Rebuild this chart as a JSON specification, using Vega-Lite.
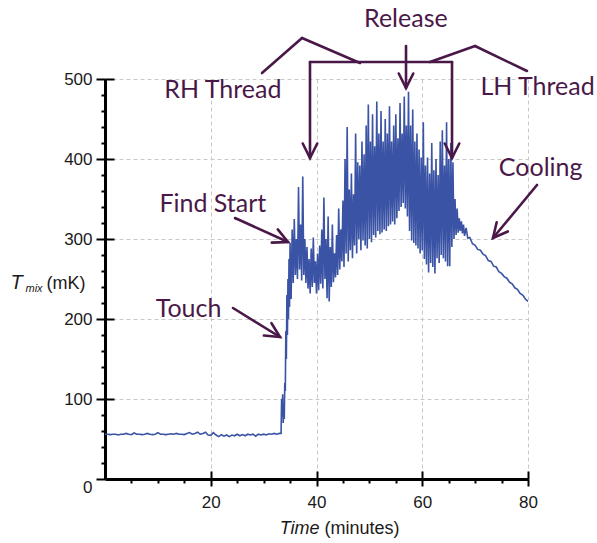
{
  "$schema": "https://vega.github.io/schema/vega-lite/v6.json",
  "width": 423,
  "height": 400,
  "autosize": {"type": "none"},
  "padding": {"left": 105, "top": 79, "right": 69, "bottom": 64},
  "background": "white",
  "config": {"view": {"stroke": null}},
  "datasets": {
    "series": [
      {"t":0,"v":56},{"t":0.5,"v":56},{"t":1,"v":55.5},{"t":1.5,"v":56},{"t":2,"v":56},{"t":2.5,"v":55},{"t":3,"v":56},{"t":3.5,"v":56},{"t":4,"v":57},{"t":4.5,"v":56},{"t":5,"v":55.5},{"t":5.5,"v":57.5},{"t":6,"v":56},{"t":6.5,"v":56},{"t":7,"v":55.5},{"t":7.5,"v":56},{"t":8,"v":57},{"t":8.5,"v":56},{"t":9,"v":55.5},{"t":9.5,"v":56},{"t":10,"v":58},{"t":10.5,"v":56},{"t":11,"v":56},{"t":11.5,"v":55.5},{"t":12,"v":56},{"t":12.5,"v":56.5},{"t":13,"v":56},{"t":13.5,"v":57},{"t":14,"v":56},{"t":14.5,"v":56},{"t":15,"v":55.5},{"t":15.5,"v":57},{"t":16,"v":58},{"t":16.5,"v":56},{"t":17,"v":57},{"t":17.5,"v":58.5},{"t":18,"v":56},{"t":18.5,"v":57},{"t":19,"v":58.5},{"t":19.5,"v":55},{"t":20,"v":54.5},{"t":20.5,"v":58},{"t":21,"v":55},{"t":21.5,"v":53},{"t":22,"v":55.5},{"t":22.5,"v":53.5},{"t":23,"v":55},{"t":23.5,"v":53},{"t":24,"v":55},{"t":24.5,"v":54},{"t":25,"v":56},{"t":25.5,"v":54},{"t":26,"v":55.5},{"t":26.5,"v":54},{"t":27,"v":56},{"t":27.5,"v":55},{"t":28,"v":56},{"t":28.5,"v":53.5},{"t":29,"v":56},{"t":29.5,"v":55},{"t":30,"v":56},{"t":30.5,"v":55},{"t":31,"v":56.5},{"t":31.5,"v":56},{"t":32,"v":57},{"t":32.5,"v":56},{"t":33,"v":57},{"t":33.3,"v":57},
      {"t":33.4,"v":100},{"t":33.5,"v":78},{"t":33.6,"v":106},{"t":33.7,"v":70},{"t":33.8,"v":92},{"t":33.9,"v":75},{"t":34.0,"v":120},{"t":34.1,"v":110},{"t":34.2,"v":185},{"t":34.3,"v":150},{"t":34.4,"v":230},{"t":34.5,"v":180},{"t":34.6,"v":250},{"t":34.7,"v":200},{"t":34.8,"v":275},{"t":34.9,"v":215},
      {"t":35.0,"v":295},{"t":35.2,"v":225},{"t":35.4,"v":312},{"t":35.6,"v":245},{"t":35.8,"v":325},{"t":36.0,"v":255},{"t":36.2,"v":300},{"t":36.4,"v":250},{"t":36.6,"v":365},{"t":36.8,"v":262},{"t":37.0,"v":318},{"t":37.2,"v":248},{"t":37.4,"v":378},{"t":37.6,"v":255},{"t":37.8,"v":300},{"t":38.0,"v":245},{"t":38.2,"v":290},{"t":38.4,"v":238},{"t":38.6,"v":275},{"t":38.8,"v":232},{"t":39.0,"v":288},{"t":39.2,"v":240},{"t":39.4,"v":302},{"t":39.6,"v":245},{"t":39.8,"v":272},
      {"t":40.0,"v":232},{"t":40.2,"v":282},{"t":40.4,"v":236},{"t":40.6,"v":292},{"t":40.8,"v":244},{"t":41.0,"v":312},{"t":41.2,"v":238},{"t":41.4,"v":352},{"t":41.6,"v":250},{"t":41.8,"v":300},{"t":42.0,"v":226},{"t":42.2,"v":328},{"t":42.4,"v":222},{"t":42.6,"v":290},{"t":42.8,"v":240},{"t":43.0,"v":318},{"t":43.2,"v":246},{"t":43.4,"v":282},{"t":43.6,"v":252},{"t":43.8,"v":305},{"t":44.0,"v":255},{"t":44.2,"v":338},{"t":44.4,"v":262},{"t":44.6,"v":312},{"t":44.8,"v":272},
      {"t":45.0,"v":348},{"t":45.2,"v":265},{"t":45.4,"v":400},{"t":45.6,"v":282},{"t":45.8,"v":440},{"t":46.0,"v":272},{"t":46.2,"v":362},{"t":46.4,"v":286},{"t":46.6,"v":382},{"t":46.8,"v":276},{"t":47.0,"v":356},{"t":47.2,"v":292},{"t":47.4,"v":432},{"t":47.6,"v":282},{"t":47.8,"v":396},{"t":48.0,"v":300},{"t":48.2,"v":392},{"t":48.4,"v":286},{"t":48.6,"v":422},{"t":48.8,"v":298},{"t":49.0,"v":406},{"t":49.2,"v":292},{"t":49.4,"v":442},{"t":49.6,"v":288},{"t":49.8,"v":468},
      {"t":50.0,"v":300},{"t":50.2,"v":422},{"t":50.4,"v":296},{"t":50.6,"v":456},{"t":50.8,"v":305},{"t":51.0,"v":416},{"t":51.2,"v":302},{"t":51.4,"v":472},{"t":51.6,"v":310},{"t":51.8,"v":432},{"t":52.0,"v":306},{"t":52.2,"v":460},{"t":52.4,"v":308},{"t":52.6,"v":422},{"t":52.8,"v":312},{"t":53.0,"v":450},{"t":53.2,"v":310},{"t":53.4,"v":432},{"t":53.6,"v":316},{"t":53.8,"v":466},{"t":54.0,"v":318},{"t":54.2,"v":422},{"t":54.4,"v":322},{"t":54.6,"v":442},{"t":54.8,"v":318},
      {"t":55.0,"v":456},{"t":55.2,"v":326},{"t":55.4,"v":426},{"t":55.6,"v":335},{"t":55.8,"v":470},{"t":56.0,"v":340},{"t":56.2,"v":432},{"t":56.4,"v":345},{"t":56.6,"v":478},{"t":56.8,"v":338},{"t":57.0,"v":442},{"t":57.2,"v":328},{"t":57.4,"v":484},{"t":57.6,"v":310},{"t":57.8,"v":442},{"t":58.0,"v":298},{"t":58.2,"v":462},{"t":58.4,"v":295},{"t":58.6,"v":422},{"t":58.8,"v":292},{"t":59.0,"v":432},{"t":59.2,"v":288},{"t":59.4,"v":412},{"t":59.6,"v":282},{"t":59.8,"v":402},
      {"t":60.0,"v":286},{"t":60.2,"v":446},{"t":60.4,"v":275},{"t":60.6,"v":392},{"t":60.8,"v":268},{"t":61.0,"v":402},{"t":61.2,"v":258},{"t":61.4,"v":382},{"t":61.6,"v":270},{"t":61.8,"v":420},{"t":62.0,"v":265},{"t":62.2,"v":386},{"t":62.4,"v":257},{"t":62.6,"v":400},{"t":62.8,"v":276},{"t":63.0,"v":380},{"t":63.2,"v":270},{"t":63.4,"v":422},{"t":63.6,"v":280},{"t":63.8,"v":436},{"t":64.0,"v":276},{"t":64.2,"v":392},{"t":64.4,"v":272},{"t":64.6,"v":446},{"t":64.8,"v":266},
      {"t":65.0,"v":400},{"t":65.2,"v":266},{"t":65.4,"v":420},{"t":65.6,"v":290},{"t":65.8,"v":396},{"t":66.0,"v":300},{"t":66.2,"v":350},{"t":66.4,"v":305},{"t":66.6,"v":338},{"t":66.8,"v":308},{"t":67.0,"v":326},{"t":67.2,"v":310},{"t":67.4,"v":322},{"t":67.6,"v":307},{"t":67.8,"v":318},{"t":68.0,"v":304},{"t":68.3,"v":314},{"t":68.6,"v":301},{"t":69.0,"v":302},{"t":69.5,"v":294},
      {"t":70.0,"v":292},{"t":70.5,"v":287},{"t":71.0,"v":286},{"t":71.5,"v":281},{"t":72.0,"v":279},{"t":72.5,"v":273},{"t":73.0,"v":272},{"t":73.5,"v":266},{"t":74.0,"v":265},{"t":74.5,"v":259},{"t":75.0,"v":257},{"t":75.5,"v":253},{"t":76.0,"v":251},{"t":76.5,"v":246},{"t":77.0,"v":244},{"t":77.5,"v":239},{"t":78.0,"v":237},{"t":78.5,"v":232},{"t":79.0,"v":230},{"t":79.5,"v":225},{"t":80.0,"v":222}
    ],
    "lines": [
      {"x1":56.93,"y1":541.25,"x2":56.93,"y2":488.75},
      {"x1":38.77,"y1":521.25,"x2":65.63,"y2":521.25},
      {"x1":38.77,"y1":521.25,"x2":38.77,"y2":401.25},
      {"x1":65.63,"y1":521.25,"x2":65.63,"y2":401.25},
      {"x1":29.69,"y1":507.5,"x2":37.26,"y2":551.25},
      {"x1":37.26,"y1":551.25,"x2":48.23,"y2":520},
      {"x1":61.47,"y1":521.25,"x2":69.98,"y2":541.25},
      {"x1":69.98,"y1":541.25,"x2":79.81,"y2":510},
      {"x1":24.59,"y1":326.25,"x2":34.61,"y2":296.25},
      {"x1":24.21,"y1":213.75,"x2":33.1,"y2":177.5},
      {"x1":81.7,"y1":367.5,"x2":73.38,"y2":301.25}
    ],
    "heads": [
      {"x":56.93,"y":488.75,"angle":0},
      {"x":38.77,"y":401.25,"angle":0},
      {"x":65.63,"y":401.25,"angle":0},
      {"x":34.61,"y":296.25,"angle":-65.6},
      {"x":33.1,"y":177.5,"angle":-58.3},
      {"x":73.38,"y":301.25,"angle":39.7}
    ],
    "labels": [
      {"x":56.9,"y":565,"text":"Release"},
      {"x":22.3,"y":476,"text":"RH Thread"},
      {"x":81.8,"y":480,"text":"LH Thread"},
      {"x":20.4,"y":334,"text":"Find Start"},
      {"x":15.8,"y":202.5,"text":"Touch"},
      {"x":82.4,"y":379,"text":"Cooling"}
    ]
  },
  "resolve": {"axis": {"x": "independent", "y": "independent"}},
  "layer": [
    {
      "data": {"name": "series"},
      "mark": {"type": "line", "color": "#3a53a4", "strokeWidth": 1.6, "clip": true},
      "encoding": {
        "x": {"field": "t", "type": "quantitative",
          "scale": {"domain": [0, 80], "nice": false, "zero": false},
          "axis": {"orient": "bottom", "values": [20, 40, 60, 80], "title": "(minutes)",
            "titleX": 219, "titleY": 54, "titleAlign": "left", "titleBaseline": "alphabetic", "titleAnchor": null,
            "titleFont": "Liberation Sans", "titleFontSize": 18, "titleFontWeight": "normal", "titleColor": "#1a1a1a",
            "labelFont": "Liberation Sans", "labelFontSize": 17, "labelColor": "#1a1a1a", "labelPadding": 8, "labelFlush": false,
            "tickSize": 7, "tickWidth": 2, "tickColor": "black", "domainColor": "black", "domainWidth": 3,
            "grid": true, "gridColor": "#c8c8c8", "gridDash": [4, 3], "gridWidth": 1}},
        "y": {"field": "v", "type": "quantitative",
          "scale": {"domain": [0, 500], "nice": false, "zero": false},
          "axis": {"orient": "left", "values": [0, 100, 200, 300, 400, 500], "title": "(mK)",
            "titleAngle": 0, "titleX": -59, "titleY": 209, "titleAlign": "left", "titleBaseline": "alphabetic", "titleAnchor": null,
            "titleFont": "Liberation Sans", "titleFontSize": 18, "titleFontWeight": "normal", "titleColor": "#1a1a1a",
            "labelFont": "Liberation Sans", "labelFontSize": 17, "labelColor": "#1a1a1a", "labelPadding": 4, "labelFlush": false,
            "labelBaseline": {"condition": {"test": "datum.value === 0", "value": "top"}, "value": "middle"},
            "tickSize": 9, "tickWidth": 2, "tickColor": "black", "domainColor": "black", "domainWidth": 3,
            "grid": true, "gridColor": "#c8c8c8", "gridDash": [4, 3], "gridWidth": 1}}
      }
    },
    {
      "data": {"name": "lines"},
      "mark": {"type": "rule", "color": "#4a1848", "strokeWidth": 2.6, "strokeCap": "round"},
      "encoding": {
        "x": {"field": "x1", "type": "quantitative",
          "scale": {"domain": [0, 80], "nice": false, "zero": false},
          "axis": {"orient": "bottom", "values": [5,10,15,20,25,30,35,40,45,50,55,60,65,70,75,80],
            "labels": false, "domain": false, "grid": false,
            "tickSize": {"condition": {"test": "datum.value % 20 === 0", "value": -8}, "value": 4},
            "tickWidth": 2, "tickColor": "black",
            "title": "Time", "titleFontStyle": "italic", "titleX": 214, "titleY": 54, "titleAlign": "right",
            "titleBaseline": "alphabetic", "titleAnchor": null,
            "titleFont": "Liberation Sans", "titleFontSize": 18, "titleFontWeight": "normal", "titleColor": "#1a1a1a"}},
        "x2": {"field": "x2"},
        "y": {"field": "y1", "type": "quantitative",
          "scale": {"domain": [0, 500], "nice": false, "zero": false},
          "axis": {"orient": "left", "values": [20,40,60,80,100,120,140,160,180,200,220,240,260,280,300,320,340,360,380,400,420,440,460,480,500],
            "labels": false, "domain": false, "grid": false,
            "tickSize": {"condition": {"test": "datum.value % 100 === 0", "value": -9}, "value": 4},
            "tickWidth": 2, "tickColor": "black",
            "title": "T", "titleFontStyle": "italic", "titleAngle": 0, "titleX": -95, "titleY": 209, "titleAlign": "left",
            "titleBaseline": "alphabetic", "titleAnchor": null,
            "titleFont": "Liberation Sans", "titleFontSize": 20, "titleFontWeight": "normal", "titleColor": "#1a1a1a"}},
        "y2": {"field": "y2"}
      }
    },
    {
      "data": {"name": "heads"},
      "mark": {"type": "point", "shape": "M-0.5,-1L0,0L0.5,-1", "filled": false, "stroke": "#4a1848", "strokeWidth": 2.6, "strokeCap": "round", "strokeJoin": "miter", "size": 841, "opacity": 1},
      "encoding": {
        "x": {"field": "x", "type": "quantitative", "scale": {"domain": [0, 80], "nice": false, "zero": false}, "axis": null},
        "y": {"field": "y", "type": "quantitative", "scale": {"domain": [0, 500], "nice": false, "zero": false},
          "axis": {"orient": "left", "labels": false, "domain": false, "grid": false, "ticks": false,
            "title": "mix", "titleFontStyle": "italic", "titleAngle": 0, "titleX": -80, "titleY": 212, "titleAlign": "left",
            "titleBaseline": "alphabetic", "titleAnchor": null,
            "titleFont": "Liberation Sans", "titleFontSize": 11, "titleFontWeight": "normal", "titleColor": "#1a1a1a"}},
        "angle": {"field": "angle", "type": "quantitative", "scale": null}
      }
    },
    {
      "data": {"name": "labels"},
      "mark": {"type": "text", "font": "Lato", "fontSize": 25, "color": "#4a1848", "align": "center", "baseline": "alphabetic"},
      "encoding": {
        "x": {"field": "x", "type": "quantitative", "scale": {"domain": [0, 80], "nice": false, "zero": false}, "axis": null},
        "y": {"field": "y", "type": "quantitative", "scale": {"domain": [0, 500], "nice": false, "zero": false}, "axis": null},
        "text": {"field": "text"}
      }
    }
  ]
}
